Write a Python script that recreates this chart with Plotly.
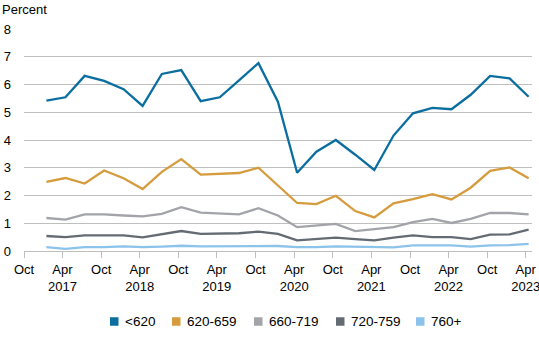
import plotly.graph_objects as go

dates = [f"{y}-{m:02d}-15" for y in range(2017, 2024) for m in (1, 4, 7, 10)][:26]

s620 = [5.42, 5.54, 6.31, 6.13, 5.83, 5.23, 6.38, 6.52, 5.40, 5.54, 6.15, 6.77, 5.38,
        2.82, 3.58, 4.00, 3.47, 2.92, 4.16, 4.96, 5.16, 5.11, 5.63, 6.31, 6.22, 5.56]
s659 = [2.49, 2.63, 2.43, 2.90, 2.62, 2.23, 2.85, 3.31, 2.75, 2.78, 2.81, 3.00, 2.37,
        1.73, 1.69, 1.99, 1.44, 1.21, 1.72, 1.87, 2.05, 1.86, 2.28, 2.89, 3.01, 2.62]
s719 = [1.19, 1.13, 1.32, 1.32, 1.28, 1.25, 1.34, 1.58, 1.38, 1.34, 1.32, 1.54, 1.28,
        0.86, 0.92, 0.98, 0.72, 0.78, 0.86, 1.04, 1.16, 1.01, 1.16, 1.37, 1.37, 1.32]
s759 = [0.54, 0.50, 0.56, 0.56, 0.56, 0.49, 0.60, 0.72, 0.62, 0.64, 0.64, 0.70, 0.62,
        0.38, 0.44, 0.48, 0.43, 0.38, 0.48, 0.56, 0.50, 0.50, 0.43, 0.59, 0.60, 0.77]
s760 = [0.14, 0.08, 0.14, 0.14, 0.17, 0.14, 0.16, 0.19, 0.17, 0.17, 0.17, 0.18, 0.18,
        0.14, 0.14, 0.17, 0.16, 0.13, 0.13, 0.20, 0.20, 0.20, 0.16, 0.20, 0.21, 0.26]

names = ["<620", "620-659", "660-719", "720-759", "760+"]
colors = ["#0A6E9F", "#D59B3D", "#A2A4A9", "#646B73", "#8CC3EA"]
series = [s620, s659, s719, s759, s760]

tick_vals = []
tick_text = []
for y in range(2016, 2024):
    if y > 2016:
        tick_vals.append(f"{y}-04-01")
        tick_text.append(f"Apr<br>{y}")
    if y < 2023:
        tick_vals.append(f"{y}-10-01")
        tick_text.append("Oct")

W, H = 539, 344
ML, MR, MT, MB = 24, 7, 29, 93
PW, PH = W - ML - MR, H - MT - MB

fig = go.Figure()
for name, col, vals in zip(names, colors, series):
    fig.add_trace(go.Scatter(x=dates, y=vals, mode="lines", name=name,
                             line=dict(color=col, width=2.3), showlegend=False))

# legend drawn as square swatches + labels (pixel positions converted to paper)
legend_left_px = [110, 172, 254, 336, 416]
legend_y_px = 321.5
shapes = []
annotations = []
ly = (H - MB - legend_y_px) / PH
for name, col, lx in zip(names, colors, legend_left_px):
    xp = (lx - ML) / PW
    shapes.append(dict(type="rect", xref="paper", yref="paper",
                       xsizemode="pixel", ysizemode="pixel",
                       xanchor=xp, yanchor=ly, x0=0, x1=8.5, y0=-4.25, y1=4.25,
                       fillcolor=col, line=dict(width=0)))
    annotations.append(dict(text=name, xref="paper", yref="paper",
                            x=(lx + 12.5 - ML) / PW, y=ly, xanchor="left",
                            yanchor="middle", showarrow=False,
                            font=dict(size=13.5)))

annotations.append(dict(text="Percent", xref="paper", yref="paper",
                        x=(0 - ML) / PW, y=(H - MB - 10) / PH,
                        xanchor="left", yanchor="middle", showarrow=False,
                        font=dict(size=13)))

font_family = "Liberation Sans, Arial, sans-serif"
fig.update_layout(
    width=W, height=H,
    margin=dict(l=ML, r=MR, t=MT, b=MB),
    paper_bgcolor="white", plot_bgcolor="white",
    showlegend=False,
    font=dict(family=font_family, size=13, color="#000000"),
    xaxis=dict(range=["2016-10-01", "2023-05-01"], tickvals=tick_vals, ticktext=tick_text,
               showgrid=False, showline=True, linecolor="#BFBFBF", linewidth=1,
               ticks="outside", ticklen=6, tickcolor="#BFBFBF", tickangle=0,
               tickfont=dict(size=13), zeroline=False, ticklabeloverflow="allow",
               automargin=False),
    yaxis=dict(range=[0, 8], tickvals=list(range(0, 9)), showgrid=True,
               gridcolor="#BFBFBF", gridwidth=1, zeroline=False, showline=False,
               tickfont=dict(size=13), ticklabelstandoff=12, automargin=False),
    shapes=shapes,
    annotations=annotations,
)
fig.write_html("out.html")
